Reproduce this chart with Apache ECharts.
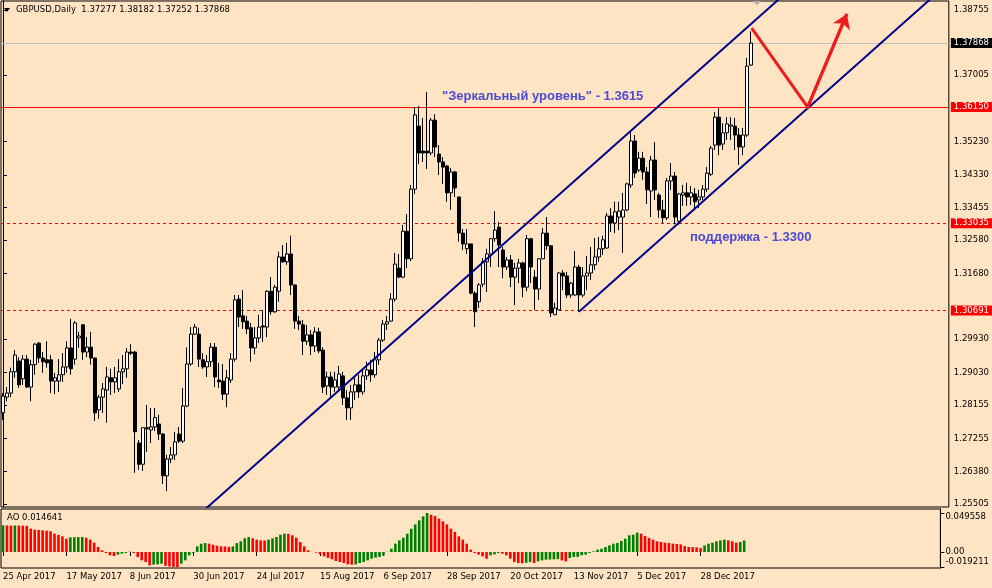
<!DOCTYPE html>
<html><head><meta charset="utf-8">
<script src="https://cdn.jsdelivr.net/npm/echarts@6/dist/echarts.min.js"></script>
<style>html,body{margin:0;padding:0;background:#FFE4C4;}#c{width:992px;height:588px;}</style>
</head><body><div id="c"></div>
<script>
const opens = [1.2795,1.2837,1.2848,1.2905,1.2934,1.2886,1.2939,1.2864,1.2924,1.2982,
1.2942,1.2937,1.2937,1.2880,1.2880,1.2897,1.2918,1.2969,1.2939,1.2996,
1.3031,1.2958,1.2971,1.2942,1.2803,1.2837,1.2856,1.2889,1.2878,1.2859,
1.2905,1.2913,1.2958,1.2958,1.2714,1.2657,1.2755,1.2749,1.2757,1.2765,
1.2738,1.2626,1.2671,1.2682,1.2738,1.2719,1.2813,1.2926,1.3006,1.3006,
1.2937,1.2918,1.2932,1.2971,1.2883,1.2880,1.2845,1.2883,1.2939,1.3100,
1.3055,1.3041,1.3023,1.2969,1.2996,1.3028,1.3025,1.3121,1.3066,1.3121,
1.3213,1.3200,1.3221,1.3138,1.3041,1.3031,1.2987,1.3004,1.2974,1.3012,
1.2963,1.2867,1.2891,1.2864,1.2864,1.2894,1.2835,1.2808,1.2851,1.2870,
1.2851,1.2894,1.2910,1.2897,1.2937,1.2990,1.3033,1.3041,1.3100,1.3183,
1.3159,1.3282,1.3208,1.3395,1.3564,1.3497,1.3497,1.3492,1.3580,1.3489,
1.3468,1.3457,1.3385,1.3441,1.3374,1.3277,1.3235,1.3248,1.3116,1.3093,
1.3140,1.3200,1.3221,1.3262,1.3293,1.3232,1.3186,1.3205,1.3159,1.3183,
1.3197,1.3132,1.3262,1.3159,1.3127,1.3208,1.3277,1.3243,1.3058,1.3071,
1.3170,1.3162,1.3111,1.3111,1.3186,1.3111,1.3162,1.3170,1.3192,1.3213,
1.3235,1.3237,1.3323,1.3304,1.3320,1.3320,1.3339,1.3406,1.3524,1.3446,
1.3478,1.3441,1.3390,1.3473,1.3379,1.3339,1.3318,1.3417,1.3430,1.3309,
1.3379,1.3385,1.3374,1.3382,1.3366,1.3374,1.3395,1.3435,1.3513,1.3588,
1.3516,1.3546,1.3564,1.3564,1.3540,1.3508,1.3540,1.37277];
const closes = [1.2840,1.2848,1.2905,1.2950,1.2870,1.2939,1.2864,1.2924,1.2979,1.2942,
1.2932,1.2929,1.2880,1.2889,1.2897,1.2918,1.2969,1.2913,1.3036,1.3001,
1.2958,1.2971,1.2942,1.2795,1.2837,1.2859,1.2891,1.2878,1.2889,1.2905,
1.2913,1.2958,1.2955,1.2744,1.2657,1.2755,1.2752,1.2757,1.2782,1.2738,
1.2626,1.2671,1.2682,1.2717,1.2719,1.2813,1.2926,1.3006,1.3025,1.2939,
1.2918,1.2932,1.2971,1.2891,1.2878,1.2845,1.2889,1.2939,1.3098,1.3052,
1.3039,1.3020,1.2969,1.2996,1.3025,1.3025,1.3121,1.3066,1.3132,1.3213,
1.3200,1.3221,1.3138,1.3041,1.3033,1.2987,1.3004,1.2974,1.3012,1.2961,
1.2864,1.2891,1.2864,1.2883,1.2899,1.2835,1.2808,1.2851,1.2870,1.2851,
1.2894,1.2910,1.2897,1.2937,1.2990,1.3033,1.3039,1.3100,1.3194,1.3159,
1.3282,1.3208,1.3395,1.3594,1.3492,1.3492,1.3492,1.3580,1.3508,1.3468,
1.3454,1.3385,1.3441,1.3398,1.3277,1.3248,1.3248,1.3116,1.3066,1.3138,
1.3200,1.3221,1.3262,1.3285,1.3245,1.3186,1.3205,1.3159,1.3183,1.3197,
1.3132,1.3262,1.3186,1.3127,1.3208,1.3277,1.3243,1.3063,1.3076,1.3170,
1.3162,1.3111,1.3143,1.3186,1.3111,1.3162,1.3170,1.3192,1.3213,1.3235,
1.3259,1.3323,1.3304,1.3334,1.3336,1.3339,1.3409,1.3524,1.3438,1.3478,
1.3441,1.3393,1.3473,1.3393,1.3339,1.3318,1.3417,1.3430,1.3320,1.3382,
1.3385,1.3374,1.3385,1.3361,1.3374,1.3395,1.3438,1.3505,1.3588,1.3513,
1.3546,1.3570,1.3567,1.3540,1.3508,1.3540,1.3725,1.37868];
const lows = [1.2776,1.2826,1.2837,1.2889,1.2862,1.2870,1.2862,1.2826,1.2897,1.2929,
1.2902,1.2916,1.2848,1.2845,1.2851,1.2878,1.2902,1.2897,1.2924,1.2969,
1.2937,1.2944,1.2924,1.2773,1.2779,1.2795,1.2768,1.2843,1.2848,1.2851,
1.2872,1.2889,1.2950,1.2634,1.2642,1.2639,1.2690,1.2714,1.2746,1.2722,
1.2604,1.2585,1.2660,1.2668,1.2714,1.2714,1.2810,1.2921,1.3004,1.2918,
1.2913,1.2891,1.2918,1.2864,1.2862,1.2829,1.2810,1.2875,1.2932,1.3025,
1.3020,1.3006,1.2932,1.2952,1.2982,1.2985,1.2998,1.3058,1.3063,1.3093,
1.3197,1.3192,1.3111,1.3020,1.3017,1.2950,1.2977,1.2950,1.2958,1.2955,
1.2848,1.2843,1.2832,1.2851,1.2851,1.2816,1.2776,1.2776,1.2829,1.2835,
1.2843,1.2883,1.2878,1.2889,1.2924,1.2985,1.3017,1.3039,1.3093,1.3156,
1.3156,1.3183,1.3202,1.3382,1.3462,1.3468,1.3449,1.3486,1.3481,1.3433,
1.3409,1.3361,1.3339,1.3374,1.3254,1.3232,1.3221,1.3113,1.3025,1.3076,
1.3132,1.3119,1.3186,1.3254,1.3186,1.3156,1.3178,1.3132,1.3084,1.3143,
1.3105,1.3121,1.3143,1.3071,1.3098,1.3208,1.3232,1.3052,1.3058,1.3071,
1.3124,1.3103,1.3103,1.3108,1.3066,1.3105,1.3124,1.3151,1.3178,1.3200,
1.3218,1.3235,1.3280,1.3277,1.3285,1.3224,1.3336,1.3398,1.3425,1.3441,
1.3420,1.3355,1.3320,1.3366,1.3318,1.3304,1.3312,1.3393,1.3301,1.3299,
1.3350,1.3350,1.3352,1.3339,1.3344,1.3366,1.3387,1.3430,1.3500,1.3486,
1.3500,1.3527,1.3527,1.3500,1.3460,1.3486,1.3535,1.37252];
const highs = [1.2848,1.2864,1.2916,1.2963,1.2944,1.2950,1.2950,1.2937,1.2982,1.2985,
1.2958,1.2987,1.2950,1.2902,1.2939,1.2955,1.2987,1.3047,1.3041,1.3012,
1.3033,1.2998,1.3012,1.2942,1.2843,1.2875,1.2918,1.2913,1.2918,1.2939,
1.2950,1.2969,1.2979,1.2961,1.2722,1.2755,1.2816,1.2808,1.2808,1.2790,
1.2741,1.2682,1.2703,1.2744,1.2757,1.2862,1.2971,1.3025,1.3033,1.3023,
1.2955,1.2950,1.2982,1.2982,1.2929,1.2926,1.2910,1.2955,1.3111,1.3111,
1.3124,1.3055,1.3036,1.3025,1.3058,1.3071,1.3124,1.3159,1.3138,1.3227,
1.3245,1.3251,1.3270,1.3138,1.3055,1.3044,1.3031,1.3017,1.3025,1.3023,
1.2971,1.2905,1.2905,1.2905,1.2921,1.2905,1.2856,1.2870,1.2889,1.2897,
1.2910,1.2932,1.2937,1.2958,1.2996,1.3044,1.3055,1.3116,1.3224,1.3221,
1.3299,1.3328,1.3406,1.3615,1.3618,1.3586,1.3655,1.3586,1.3596,1.3513,
1.3481,1.3460,1.3452,1.3444,1.3374,1.3288,1.3288,1.3248,1.3121,1.3143,
1.3210,1.3235,1.3262,1.3336,1.3307,1.3240,1.3213,1.3218,1.3197,1.3208,
1.3200,1.3272,1.3264,1.3178,1.3210,1.3291,1.3320,1.3243,1.3090,1.3173,
1.3178,1.3173,1.3146,1.3229,1.3192,1.3186,1.3216,1.3240,1.3264,1.3267,
1.3270,1.3331,1.3344,1.3361,1.3361,1.3385,1.3412,1.3548,1.3540,1.3495,
1.3495,1.3454,1.3484,1.3521,1.3385,1.3366,1.3425,1.3465,1.3441,1.3385,
1.3406,1.3412,1.3403,1.3398,1.3393,1.3406,1.3454,1.3511,1.3602,1.3612,
1.3572,1.3588,1.3588,1.3586,1.3559,1.3559,1.3747,1.38182];
const aoValues = [0.0339,0.0337,0.0335,0.0337,0.0336,0.0334,0.0332,0.0296,0.0284,0.0280,
0.0275,0.0271,0.0263,0.0233,0.0216,0.0199,0.0169,0.0186,0.0188,0.0190,
0.0191,0.0182,0.0157,0.0119,0.0064,0.0021,-0.0013,-0.0042,-0.0051,-0.0034,
-0.0021,-0.0013,0.0004,-0.0013,-0.0064,-0.0106,-0.0127,-0.0169,-0.0161,-0.0157,
-0.0148,-0.0175,-0.0184,-0.0189,-0.019211,-0.0148,-0.0106,-0.0042,-0.0013,0.0072,
0.0106,0.0114,0.0106,0.0093,0.0080,0.0072,0.0070,0.0064,0.0072,0.0114,
0.0136,0.0174,0.0191,0.0174,0.0157,0.0148,0.0146,0.0157,0.0174,0.0191,
0.0220,0.0233,0.0231,0.0212,0.0182,0.0127,0.0072,0.0021,0.0002,-0.0008,
-0.0030,-0.0055,-0.0076,-0.0093,-0.0114,-0.0127,-0.0140,-0.0157,-0.0161,-0.0157,
-0.0140,-0.0127,-0.0106,-0.0085,-0.0072,-0.0064,-0.0042,0.0003,0.0042,0.0106,
0.0148,0.0182,0.0233,0.0296,0.0351,0.0402,0.0453,0.049558,0.0474,0.0457,
0.0424,0.0390,0.0351,0.0296,0.0254,0.0199,0.0157,0.0106,0.0030,-0.0013,
-0.0034,-0.0055,-0.0085,-0.0042,-0.0030,-0.0013,-0.0021,-0.0042,-0.0085,-0.0127,
-0.0140,-0.0144,-0.0136,-0.0127,-0.0140,-0.0119,-0.0106,-0.0097,-0.0095,-0.0093,
-0.0090,-0.0106,-0.0119,-0.0076,-0.0064,-0.0062,-0.0042,-0.0034,-0.0013,0.0008,
0.0030,0.0042,0.0064,0.0085,0.0106,0.0114,0.0140,0.0169,0.0212,0.0220,
0.0246,0.0233,0.0203,0.0178,0.0157,0.0136,0.0127,0.0119,0.0114,0.0106,
0.0102,0.0097,0.0076,0.0064,0.0062,0.0060,0.0051,0.0085,0.0106,0.0119,
0.0136,0.0148,0.0157,0.0148,0.0136,0.0119,0.0127,0.014641];
const dateTicks = ['25 Apr 2017','17 May 2017','8 Jun 2017','30 Jun 2017','24 Jul 2017','15 Aug 2017',
  '6 Sep 2017','28 Sep 2017','20 Oct 2017','13 Nov 2017','5 Dec 2017','28 Dec 2017'];
const priceTicks = [1.38755,1.37005,1.35230,1.34330,1.33455,1.32580,1.31680,1.29930,1.29030,1.28155,1.27255,1.26380,1.25505];
const aoTicks = [0.049558, 0, -0.019211];
const aoTickLabels = ['0.049558', '0.00', '-0.019211'];
const levelValues = [1.37868, 1.36150, 1.33035, 1.30691];
const channelUpper = [[0, 1.2054], [236, 1.4305]];
const channelLower = [[144, 1.3066], [236, 1.3944]];
const forecastPath = [[187.2, 1.3827], [201.2, 1.3615], [211, 1.3865]];
const headerText = 'GBPUSD,Daily  1.37277 1.38182 1.37252 1.37868';
const aoLabel = 'AO 0.014641';
const noteMirror = '"Зеркальный уровень" - 1.3615';
const noteSupport = 'поддержка - 1.3300';

const SLOTS = 237;
const STEP = 16;
const cats = Array.from({length: SLOTS}, (_, i) => String(i));
const candleData = opens.map((o, i) => [o, closes[i], lows[i], highs[i]]);
const aoData = aoValues.map((v, i) => ({
  value: v,
  itemStyle: {color: (i === 0 || v > aoValues[i - 1]) ? '#008000' : '#FF0000'}
}));
const FONT = 'DejaVu Sans';
const showTick = (idx) => idx % STEP === 0 && idx / STEP < dateTicks.length;

const levelStyles = [
  {line: '#C0C0C0', type: 'solid', bg: '#000000'},
  {line: '#FF0000', type: 'solid', bg: '#FF0000'},
  {line: '#FF0000', type: [3, 3], bg: '#FF0000'},
  {line: '#FF0000', type: [3, 3], bg: '#FF0000'}
];

const chart = echarts.init(document.getElementById('c'), null, {renderer: 'canvas'});
chart.setOption({
  backgroundColor: '#FFE4C4',
  animation: false,
  textStyle: {fontFamily: FONT},
  grid: [
    {left: 1, top: 1, width: 948, height: 506, show: true, borderColor: '#000', borderWidth: 1, backgroundColor: 'transparent'},
    {left: 1, top: 509, width: 948, height: 59, show: true, borderColor: '#000', borderWidth: 1, backgroundColor: 'transparent'}
  ],
  xAxis: [
    {type: 'category', gridIndex: 0, data: cats, boundaryGap: true, show: false},
    {type: 'category', gridIndex: 1, data: cats, boundaryGap: true,
     axisLine: {show: false},
     axisTick: {show: true, interval: showTick, alignWithLabel: true, length: 4, lineStyle: {color: '#000'}},
     axisLabel: {show: true, interval: showTick, align: 'left', margin: 4, color: '#000', fontSize: 8.5, fontFamily: FONT,
       formatter: (v, idx) => dateTicks[Math.round(idx / STEP)] || ''},
     splitLine: {show: false}},
    {type: 'value', gridIndex: 0, min: -0.5, max: SLOTS - 0.5, show: false}
  ],
  yAxis: [
    {type: 'value', gridIndex: 0, position: 'right', min: 1.25423, max: 1.38996,
     axisLine: {show: true, lineStyle: {color: '#000'}},
     axisTick: {show: true, length: 4, customValues: priceTicks, lineStyle: {color: '#000'}},
     axisLabel: {show: true, customValues: priceTicks, margin: 5, color: '#000', fontSize: 8.5, fontFamily: FONT,
       formatter: (v) => v.toFixed(5)},
     splitLine: {show: false}},
    {type: 'value', gridIndex: 1, position: 'right', min: -0.0203, max: 0.0546,
     axisLine: {show: true, lineStyle: {color: '#000'}},
     axisTick: {show: true, length: 4, customValues: aoTicks, lineStyle: {color: '#000'}},
     axisLabel: {show: true, customValues: aoTicks, margin: 5, color: '#000', fontSize: 8.5, fontFamily: FONT,
       formatter: (v) => {
         const k = aoTicks.findIndex(t => Math.abs(t - v) < 1e-7);
         const s = k >= 0 ? aoTickLabels[k] : '';
         if (k === 0) return '{t|' + s + '}';
         if (k === 2) return '{b|' + s + '}';
         return s;
       },
       rich: {t: {padding: [7, 0, 0, 0], fontSize: 8.5, fontFamily: FONT, color: '#000'},
              b: {padding: [0, 0, 10, 0], fontSize: 8.5, fontFamily: FONT, color: '#000'}}},
     splitLine: {show: false}}
  ],
  series: [
    {type: 'candlestick', xAxisIndex: 0, yAxisIndex: 0, data: candleData, barWidth: 3, clip: false,
     itemStyle: {color: '#FFFFFF', color0: '#000000', borderColor: '#000000', borderColor0: '#000000', borderWidth: 1},
     silent: true, z: 3,
     markLine: {
       silent: true, symbol: 'none', animation: false, precision: 5, z: 1,
       data: levelValues.map((v, k) => ({
         yAxis: v,
         lineStyle: {color: levelStyles[k].line, type: levelStyles[k].type, width: 1, opacity: 1},
         label: {show: true, position: 'end', distance: 2, formatter: v.toFixed(5), color: '#FFFFFF',
                 backgroundColor: levelStyles[k].bg, padding: [1, 3, 0, 3], fontSize: 8.5, fontFamily: FONT}
       }))
     }},
    {type: 'line', xAxisIndex: 2, yAxisIndex: 0, data: channelUpper, symbol: 'none', clip: true, silent: true, z: 4,
     lineStyle: {color: '#00008B', width: 2}},
    {type: 'line', xAxisIndex: 2, yAxisIndex: 0, data: channelLower, symbol: 'none', clip: true, silent: true, z: 4,
     lineStyle: {color: '#00008B', width: 2}},
    {type: 'line', xAxisIndex: 2, yAxisIndex: 0, data: forecastPath, symbol: 'none', clip: true, silent: true, z: 4,
     lineStyle: {color: '#EE1C1C', width: 3, join: 'miter'},
     markLine: {silent: true, animation: false, precision: 5, symbol: ['none', 'arrow'], symbolSize: 14,
       lineStyle: {color: '#EE1C1C', width: 3, type: 'solid'}, label: {show: false},
       data: [[{coord: forecastPath[1]}, {coord: forecastPath[2]}]]}},
    {type: 'bar', xAxisIndex: 1, yAxisIndex: 1, data: aoData, barWidth: 2.6, silent: true}
  ],
  graphic: [
    {type: 'polygon', shape: {points: [[4, 8], [10, 8], [7, 12]]}, style: {fill: '#000'}},
    {type: 'polygon', shape: {points: [[753, 1], [761, 1], [757, 5]]}, style: {fill: '#A8A8A8'}},
    {type: 'text', x: 16, y: 10, style: {text: headerText, fill: '#000', font: '8.5px "DejaVu Sans"', textVerticalAlign: 'middle'}},
    {type: 'text', x: 7, y: 518, style: {text: aoLabel, fill: '#000', font: '8.5px "DejaVu Sans"', textVerticalAlign: 'middle'}},
    {type: 'text', x: 442, y: 96, style: {text: noteMirror, fill: '#4B4BD6', font: 'bold 13px "Liberation Sans"', textVerticalAlign: 'middle'}},
    {type: 'text', x: 690, y: 237, style: {text: noteSupport, fill: '#4B4BD6', font: 'bold 13px "Liberation Sans"', textVerticalAlign: 'middle'}}
  ]
});
</script></body></html>
